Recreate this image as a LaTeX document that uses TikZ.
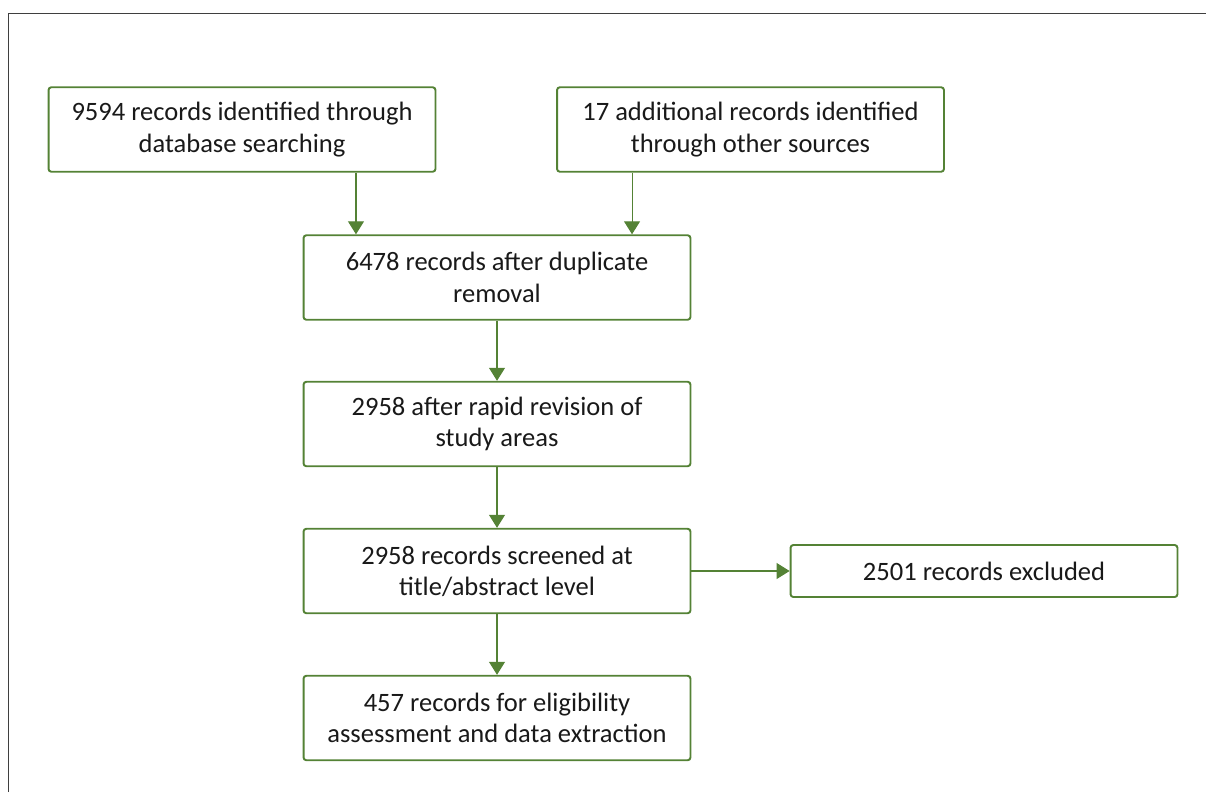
\documentclass[tikz,border=0pt]{standalone}
\usepackage{fontspec}
\setmainfont{Carlito}
\usetikzlibrary{arrows.meta,calc}
\definecolor{Leaf}{HTML}{548235}
\definecolor{Frame}{HTML}{3F3F3F}

\begin{document}
\begin{tikzpicture}[x=0.02cm,y=-0.02cm,
        recbox/.style={rectangle,rounded corners=1.6pt,draw=Leaf,line width=1.1pt,fill=white,
          minimum width=7.74cm,minimum height=1.69cm,align=center,inner sep=2pt,
          font=\fontsize{15.1}{17.8}\selectfont,text=black!90},
        tworec/.style={recbox,execute at begin node={\rule{0pt}{18.5pt}}},
        arr/.style={-{Triangle[length=2.6mm,width=3.2mm]},draw=Leaf,line width=0.6pt}]
        \useasboundingbox (0,0) rectangle (1206,792);
        \draw[Frame,line width=1.1pt] (8.5,792) -- (8.5,13.5) -- (1206,13.5);
        \node[tworec] (a) at (242,129.5) {9594 records identified through\\database searching};
        \node[tworec] (b) at (750.5,129.5) {17 additional records identified\\through other sources};
        \node[tworec] (c) at (497,277.5) {6478 records after duplicate\\removal};
        \node[tworec] (d) at (497,424) {2958 after rapid revision of\\study areas};
        \node[tworec] (e) at (497,571) {2958 records screened at\\title/abstract level};
        \node[tworec] (f) at (497,718) {457 records for eligibility\\assessment and data extraction};
        \node[recbox,minimum height=1.04cm] (g) at (984,571) {2501 records excluded};
        \draw[arr] ([xshift=2.28cm]a.south) -- ([xshift=2.28cm]a.south |- c.north);
        \draw[arr] ([xshift=-2.37cm]b.south) -- ([xshift=-2.37cm]b.south |- c.north);
        \draw[arr] (c) -- (d);
        \draw[arr] (d) -- (e);
        \draw[arr] (e) -- (f);
        \draw[arr] (e) -- (g);
      \end{tikzpicture}
\end{document}
